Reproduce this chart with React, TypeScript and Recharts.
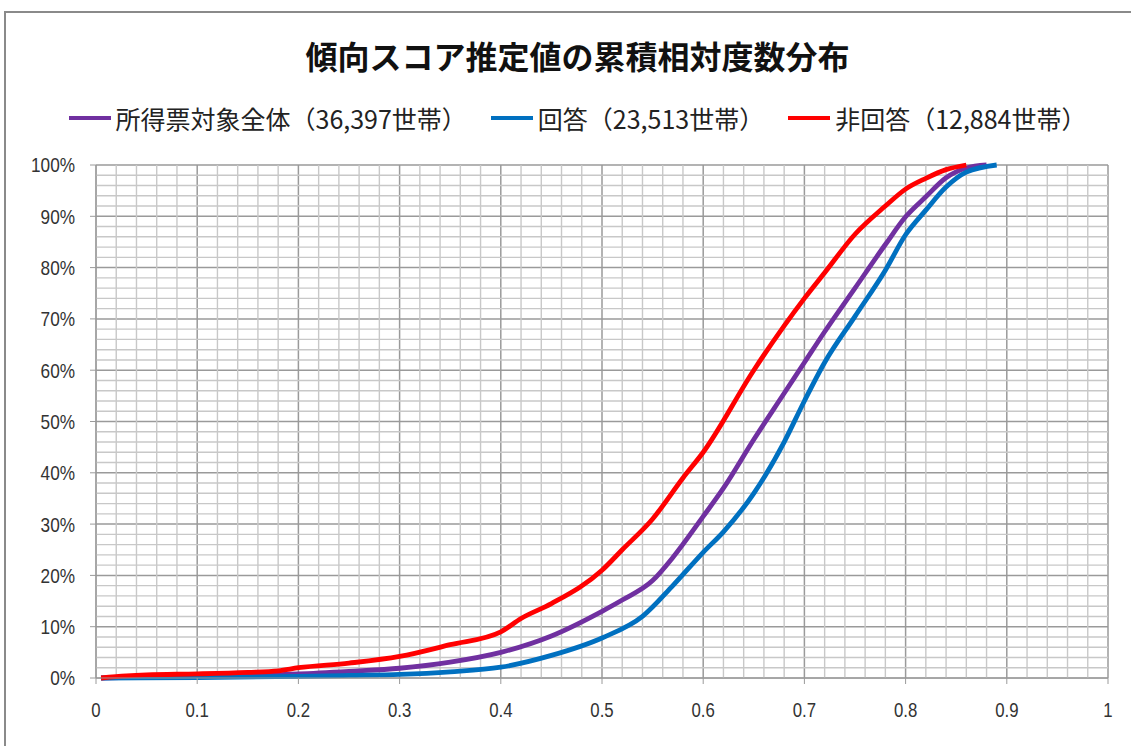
import React from 'react';
import { LineChart, Line, XAxis, YAxis, CartesianGrid, ReferenceLine } from 'recharts';

const chartTitle = '傾向スコア推定値の累積相対度数分布';
const seriesNames = ['所得票対象全体（36,397世帯）', '回答（23,513世帯）', '非回答（12,884世帯）'];
const seriesColors = ['#7030A0', '#0070C0', '#FF0000'];

// 所得票対象全体
const allScore = [0.005, 0.05, 0.1, 0.15, 0.2, 0.25, 0.3, 0.35, 0.4, 0.45, 0.5, 0.52, 0.55, 0.57, 0.6, 0.62, 0.65, 0.68, 0.7, 0.72, 0.75, 0.78, 0.8, 0.82, 0.84, 0.86, 0.88];
const allCum = [0, 0.2, 0.3, 0.5, 0.8, 1.3, 1.9, 3.1, 5.0, 8.2, 13.0, 15.2, 19, 23.5, 31.5, 37, 46.5, 55.5, 61.5, 67.5, 76, 84.5, 89.9, 93.8, 97.5, 99.4, 100];

// 回答
const respScore = [0.005, 0.1, 0.2, 0.25, 0.3, 0.35, 0.4, 0.45, 0.5, 0.54, 0.57, 0.6, 0.62, 0.65, 0.68, 0.7, 0.72, 0.75, 0.78, 0.8, 0.82, 0.84, 0.86, 0.89];
const respCum = [0, 0.1, 0.3, 0.5, 0.7, 1.2, 2.1, 4.4, 7.8, 12, 18, 24.5, 28.5, 36, 46, 54, 61.5, 70.5, 79.5, 86.4, 91.2, 95.7, 98.6, 100];

// 非回答
const nonScore = [0.005, 0.03, 0.05, 0.1, 0.15, 0.18, 0.2, 0.25, 0.3, 0.35, 0.4, 0.42, 0.45, 0.5, 0.52, 0.55, 0.58, 0.6, 0.65, 0.7, 0.72, 0.75, 0.78, 0.8, 0.82, 0.84, 0.86];
const nonCum = [0, 0.4, 0.6, 0.8, 1.1, 1.4, 2.0, 2.9, 4.2, 6.5, 9.0, 11.6, 14.5, 21, 25, 31, 39, 44, 60, 74, 79, 86.5, 92, 95.3, 97.4, 99.1, 100];

const xTicks = [0, 0.1, 0.2, 0.3, 0.4, 0.5, 0.6, 0.7, 0.8, 0.9, 1];
const yTicks = [0, 10, 20, 30, 40, 50, 60, 70, 80, 90, 100];
const xMinorTicks = [
  0.02, 0.04, 0.06, 0.08, 0.12, 0.14, 0.16, 0.18, 0.22, 0.24, 0.26, 0.28,
  0.32, 0.34, 0.36, 0.38, 0.42, 0.44, 0.46, 0.48, 0.52, 0.54, 0.56, 0.58,
  0.62, 0.64, 0.66, 0.68, 0.72, 0.74, 0.76, 0.78, 0.82, 0.84, 0.86, 0.88,
  0.92, 0.94, 0.96, 0.98,
];
const yMinorTicks = [
  2, 4, 6, 8, 12, 14, 16, 18, 22, 24, 26, 28, 32, 34, 36, 38, 42, 44, 46, 48,
  52, 54, 56, 58, 62, 64, 66, 68, 72, 74, 76, 78, 82, 84, 86, 88, 92, 94, 96, 98,
];

const toPoints = (xs: number[], ys: number[]) => xs.map((x, i) => ({ x, y: ys[i] }));
const seriesData = [toPoints(allScore, allCum), toPoints(respScore, respCum), toPoints(nonScore, nonCum)];

const tickFont = "'Liberation Sans', Arial, sans-serif";
const cjkFont = "'Noto Sans CJK JP', sans-serif";
const majorColor = '#9a9a9a';
const minorColor = '#c8c8c8';

const XTick = (props: any) => {
  const { x, y, payload } = props;
  return (
    <g transform={`translate(${x},${y}) scale(0.8,1)`}>
      <text x={0} y={0} dy="0.71em" textAnchor="middle" fill="#333" fontSize={21} fontFamily={tickFont}>
        {String(payload.value)}
      </text>
    </g>
  );
};

const YTick = (props: any) => {
  const { x, y, payload } = props;
  return (
    <g transform={`translate(${x},${y}) scale(0.82,1)`}>
      <text x={0} y={0} dy="0.355em" textAnchor="end" fill="#333" fontSize={21} fontFamily={tickFont}>
        {`${payload.value}%`}
      </text>
    </g>
  );
};

export default function App() {
  return (
    <div style={{ position: 'relative', width: 1131, height: 746, background: '#fff', overflow: 'hidden' }}>
      <style>{`body{margin:0;}`}</style>
      <div
        style={{
          position: 'absolute',
          left: 4,
          top: 11,
          width: 1140,
          height: 760,
          border: '2px solid #8a8a8a',
          boxSizing: 'border-box',
        }}
      />
      <div
        style={{
          position: 'absolute',
          left: 12,
          top: 35,
          width: 1131,
          height: 40,
          lineHeight: '40px',
          textAlign: 'center',
          fontFamily: cjkFont,
          fontWeight: 700,
          fontSize: 32,
          color: '#111',
        }}
      >
        {chartTitle}
      </div>
      <div
        style={{
          position: 'absolute',
          left: 12,
          top: 100,
          width: 1131,
          height: 36,
          display: 'flex',
          justifyContent: 'center',
          alignItems: 'center',
          gap: 24,
          fontFamily: cjkFont,
          fontSize: 25,
          color: '#222',
        }}
      >
        {seriesNames.map((name, i) => (
          <div key={name} style={{ display: 'flex', alignItems: 'center' }}>
            <div style={{ width: 42, height: 4, background: seriesColors[i], marginRight: 5 }} />
            <span>{name}</span>
          </div>
        ))}
      </div>
      <div style={{ position: 'absolute', left: 0, top: 0 }}>
        <LineChart width={1131} height={746} margin={{ top: 165, right: 23, bottom: 0, left: 0 }}>
          <XAxis
            dataKey="x"
            type="number"
            domain={[0, 1]}
            ticks={xTicks}
            interval={0}
            allowDataOverflow
            height={68}
            stroke={majorColor}
            tickSize={6}
            tickMargin={18}
            tick={<XTick />}
          />
          <YAxis
            type="number"
            domain={[0, 100]}
            ticks={yTicks}
            interval={0}
            width={96}
            stroke={majorColor}
            tickSize={6}
            tickMargin={15}
            tick={<YTick />}
          />
          {xMinorTicks.map((v) => (
            <ReferenceLine key={`vx${v}`} x={v} stroke={minorColor} strokeWidth={1.4} />
          ))}
          {yMinorTicks.map((v) => (
            <ReferenceLine key={`hy${v}`} y={v} stroke={minorColor} strokeWidth={1.4} />
          ))}
          <CartesianGrid stroke={majorColor} strokeWidth={1.5} />
          {seriesData.map((d, i) => (
            <Line
              key={seriesNames[i]}
              data={d}
              dataKey="y"
              name={seriesNames[i]}
              type="monotone"
              stroke={seriesColors[i]}
              strokeWidth={4.8}
              dot={false}
              activeDot={false}
              isAnimationActive={false}
            />
          ))}
        </LineChart>
      </div>
    </div>
  );
}
